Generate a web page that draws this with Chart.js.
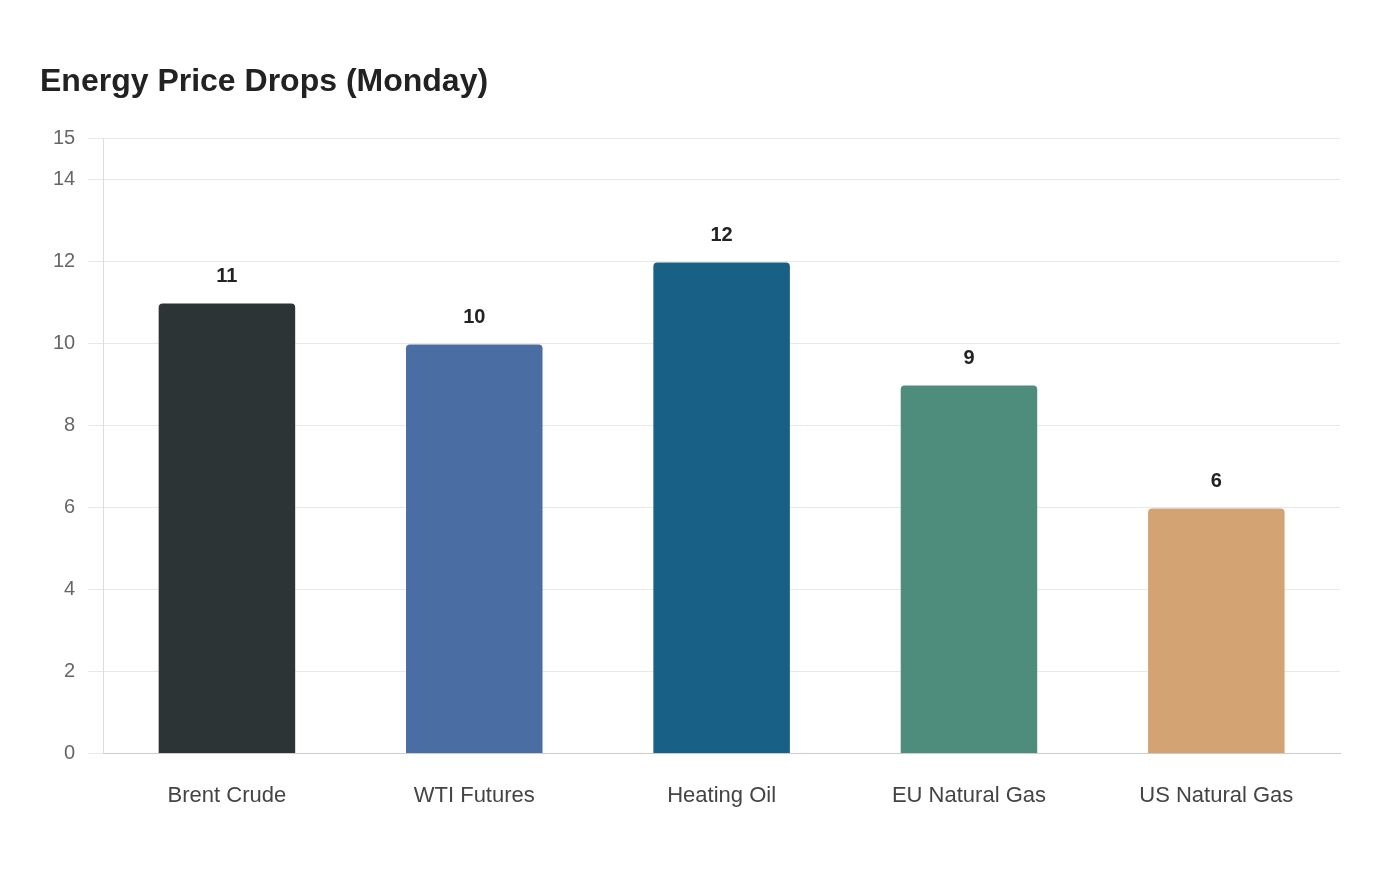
<!DOCTYPE html>
<html>
<head>
<meta charset="utf-8">
<script src="https://cdn.jsdelivr.net/npm/chart.js@4/dist/chart.umd.min.js"></script>
<style>
html,body{margin:0;padding:0;background:#fff;}
#wrap{width:1400px;height:880px;}
</style>
</head>
<body>
<div id="wrap"><canvas id="c" width="1400" height="880"></canvas></div>
<script>
const categories = ["Brent Crude", "WTI Futures", "Heating Oil", "EU Natural Gas", "US Natural Gas"];
const values = [11, 10, 12, 9, 6];
const barColors = ["#2d3436", "#4a6da3", "#186085", "#4e8d7c", "#d4a373"];
const yMax = 15;
const yStep = 2;

const labelPlugin = {
  id: 'valueLabels',
  afterDatasetsDraw(chart) {
    const ctx = chart.ctx;
    const meta = chart.getDatasetMeta(0);
    ctx.save();
    ctx.font = 'bold 20px "Liberation Sans", Arial, sans-serif';
    ctx.fillStyle = '#222';
    ctx.textAlign = 'center';
    ctx.textBaseline = 'bottom';
    meta.data.forEach((bar, i) => {
      ctx.fillText(String(values[i]), bar.x, bar.y - 16);
    });
    ctx.restore();
  }
};

new Chart(document.getElementById('c'), {
  type: 'bar',
  data: {
    labels: categories,
    datasets: [{
      data: values,
      backgroundColor: barColors,
      borderColor: 'rgba(255,255,255,0.25)',
      borderWidth: 1,
      borderRadius: {topLeft: 5, topRight: 5},
      borderSkipped: 'bottom',
      barPercentage: 0.7,
      categoryPercentage: 0.8
    }]
  },
  options: {
    responsive: false,
    animation: false,
    devicePixelRatio: 1,
    layout: {padding: {left: 40, right: 60, top: 63, bottom: 50}},
    plugins: {
      legend: {display: false},
      tooltip: {enabled: false},
      title: {
        display: true,
        text: 'Energy Price Drops (Monday)',
        align: 'start',
        color: '#222',
        font: {family: '"Liberation Sans", Arial, sans-serif', size: 32, weight: 'bold'},
        padding: {top: 0, bottom: 37}
      }
    },
    scales: {
      x: {
        grid: {display: false},
        border: {color: '#cccccc', width: 1},
        ticks: {color: '#444', font: {family: '"Liberation Sans", Arial, sans-serif', size: 22}, padding: 21}
      },
      y: {
        min: 0,
        max: yMax,
        grid: {color: '#e8e8e8', tickLength: 15},
        border: {color: '#dddddd', width: 1},
        ticks: {stepSize: yStep, color: '#666', font: {family: '"Liberation Sans", Arial, sans-serif', size: 20}, padding: 13}
      }
    }
  },
  plugins: [labelPlugin]
});
</script>
</body>
</html>
